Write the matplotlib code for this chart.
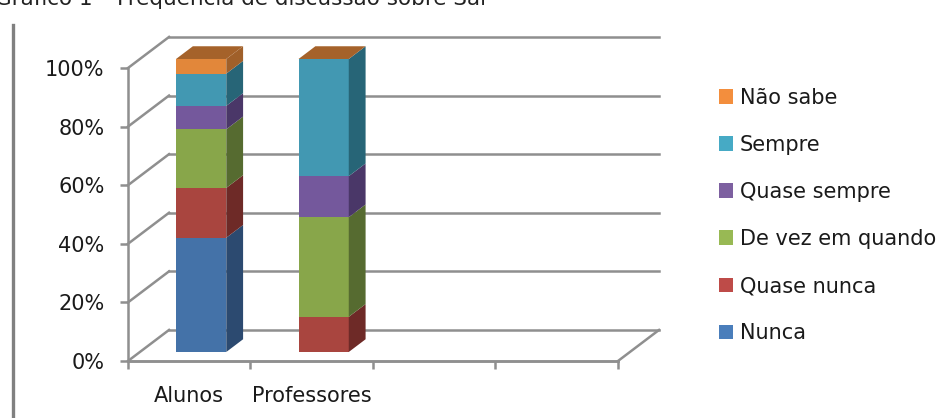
import matplotlib.pyplot as plt
from matplotlib.patches import Polygon, Rectangle, Patch
from matplotlib.lines import Line2D

# data (percent of answers)
groups = ['Alunos', 'Professores']
series = ['Nunca', 'Quase nunca', 'De vez em quando', 'Quase sempre', 'Sempre', 'Não sabe']
nunca = [39, 0]
quase_nunca = [17, 12]
de_vez = [20, 34]
quase_sempre = [8, 14]
sempre = [11, 40]
nao_sabe = [5, 0]
values = [nunca, quase_nunca, de_vez, quase_sempre, sempre, nao_sabe]

front_colors = ['#4472A8', '#A9453F', '#88A64A', '#74589C', '#4298B2', '#E2873A']
side_colors = ['#2C4A70', '#6E2A27', '#566B30', '#4A3768', '#276577', '#A0602A']
top_colors = ['#5585BE', '#B85450', '#9AB55C', '#8468AA', '#52A8C0', '#A5622A']
legend_colors = ['#4A7EBB', '#BE4B48', '#98B954', '#7D60A0', '#46AAC5', '#F38E3D']

n_slots = 4            # Excel keeps two empty category slots
bar_w = 0.41
DX, DY = 0.335, 10.6   # depth of the 3D box in data units
f0, f1 = 0.29, 0.70    # bar depth position inside the box
grid_c = '#8f8f8f'
fs = 15

plt.rcParams['font.family'] = ['DejaVu Sans']

fig = plt.figure(figsize=(9.53, 4.18), dpi=100)
ax = fig.add_axes([128 / 953, 57 / 418, 490 / 953, 293 / 418])
ax.set_xlim(0, n_slots)
ax.set_ylim(0, 100)

# walls: grid lines on left side wall and back wall, floor
for v in range(0, 101, 20):
    ax.plot([0, DX], [v, v + DY], color=grid_c, lw=1.8, clip_on=False, zorder=1)
    ax.plot([DX, n_slots + DX], [v + DY, v + DY], color=grid_c, lw=1.8, clip_on=False, zorder=1)
ax.plot([n_slots, n_slots + DX], [0, DY], color=grid_c, lw=1.8, clip_on=False, zorder=1)
ax.plot([0, n_slots], [0, 0], color=grid_c, lw=1.8, clip_on=False, zorder=1)

# stacked 3D bars
for i, g in enumerate(groups):
    x0 = i + 0.5 - bar_w / 2
    xl = x0 + f0 * DX
    xr = x0 + bar_w + f0 * DX
    ddx = (f1 - f0) * DX
    ddy = (f1 - f0) * DY
    bottom = 0
    for k, s in enumerate(series):
        h = values[k][i]
        if h > 0:
            yb = bottom + f0 * DY
            ax.add_patch(Rectangle((xl, yb), bar_w, h, facecolor=front_colors[k],
                                   edgecolor='none', zorder=3, clip_on=False))
            side = [(xr, yb), (xr + ddx, yb + ddy), (xr + ddx, yb + h + ddy), (xr, yb + h)]
            ax.add_patch(Polygon(side, closed=True, facecolor=side_colors[k],
                                 edgecolor='none', zorder=3, clip_on=False))
        bottom += h
    yt = bottom + f0 * DY
    top = [(xl, yt), (xr, yt), (xr + ddx, yt + ddy), (xl + ddx, yt + ddy)]
    ax.add_patch(Polygon(top, closed=True, facecolor=top_colors[-1],
                         edgecolor='none', zorder=3, clip_on=False))

# axes
for sp in ['top', 'right']:
    ax.spines[sp].set_visible(False)
for sp in ['left', 'bottom']:
    ax.spines[sp].set_color(grid_c)
    ax.spines[sp].set_linewidth(1.8)
ax.set_yticks(range(0, 101, 20))
ax.set_yticklabels([f'{v}%' for v in range(0, 101, 20)])
ax.set_xticks(range(n_slots + 1))
ax.set_xticklabels([])
ax.set_xticks([i + 0.5 for i in range(len(groups))], minor=True)
ax.set_xticklabels(groups, minor=True)
ax.tick_params(axis='y', length=6, width=1.8, color=grid_c, pad=11, labelsize=fs, labelcolor='#1a1a1a')
ax.tick_params(axis='x', which='major', length=6, width=1.8, color=grid_c)
ax.tick_params(axis='x', which='minor', length=0, pad=18, labelsize=fs, labelcolor='#1a1a1a')
ax.set_facecolor('none')

# legend
handles = [Patch(facecolor=legend_colors[k], edgecolor='none', label=series[k])
           for k in range(len(series) - 1, -1, -1)]
fig.legend(handles=handles, loc='upper left', bbox_to_anchor=(700 / 953, 1 - 69 / 418),
           frameon=False, fontsize=fs, handlelength=0.7, handleheight=0.7,
           handletextpad=0.3, labelspacing=1.3, labelcolor='#1a1a1a')

# page decorations: cut-off caption and the left rule
fig.text(-0.005, 1 - 5 / 418, 'Gráfico 1 – Frequência de discussão sobre Sal',
         fontsize=15.5, color='#222222', va='baseline', ha='left')
fig.add_artist(Line2D([13 / 953, 13 / 953], [0, 1 - 25 / 418], color='#808080', lw=2.4))

fig.savefig('out.png', dpi=100)
